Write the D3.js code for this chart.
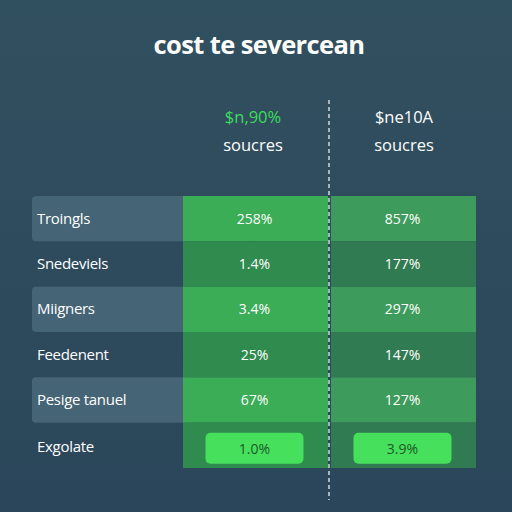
<!DOCTYPE html>
<html><head><meta charset="utf-8">
<script src="https://cdn.jsdelivr.net/npm/d3@7"></script>
<style>body{margin:0;background:#2e4b60}</style>
</head><body>
<script>
// table contents
var rowLabels = ["Troingls", "Snedeviels", "Miigners", "Feedenent", "Pesige tanuel", "Exgolate"];
var colHeads = ["$n,90%", "$ne10A"];
var colSubs = ["soucres", "soucres"];
var colA = ["258%", "1.4%", "3.4%", "25%", "67%", "1.0%"];
var colB = ["857%", "177%", "297%", "147%", "127%", "3.9%"];

var W = 512, H = 512;
var svg = d3.select("body").append("svg").attr("width", W).attr("height", H);
var defs = svg.append("defs");
var grad = defs.append("linearGradient").attr("id", "bg").attr("x1", 0).attr("y1", 0).attr("x2", 0).attr("y2", 1);
grad.append("stop").attr("offset", "0%").attr("stop-color", "#31505f");
grad.append("stop").attr("offset", "100%").attr("stop-color", "#2b465a");
svg.append("rect").attr("width", W).attr("height", H).attr("fill", "url(#bg)");

var font = "'Open Sans', sans-serif";
svg.append("text").attr("x", 259).attr("y", 54).attr("text-anchor", "middle")
  .attr("fill", "#fff").attr("font-family", font).attr("font-weight", 700)
  .attr("font-size", 25.5).attr("letter-spacing", -0.6).text("cost te severcean");

var y = d3.scaleBand().domain(d3.range(rowLabels.length)).range([196, 468]);
var cols = [{x0: 183, x1: 328, vals: colA}, {x0: 331, x1: 476, vals: colB}];
var lightFill = ["#3bad57", "#3d9c5b"], darkFill = ["#2f8b4e", "#307b51"];

rowLabels.forEach(function(lab, i) {
  var odd = i % 2 === 0;
  var g = svg.append("g").attr("transform", "translate(0," + y(i) + ")");
  if (odd) g.append("rect").attr("x", 32).attr("width", 160).attr("height", y.bandwidth())
    .attr("rx", 4).attr("fill", "#456476");
  cols.forEach(function(c, j) {
    g.append("rect").attr("x", c.x0).attr("width", c.x1 - c.x0).attr("height", y.bandwidth())
      .attr("fill", odd ? lightFill[j] : darkFill[j]);
    var cx = (c.x0 + c.x1) / 2 - 1;
    var last = i === rowLabels.length - 1;
    if (last) g.append("rect").attr("x", cx - 49).attr("y", 10).attr("width", 98).attr("height", 31)
      .attr("rx", 5).attr("fill", "#46e05c");
    g.append("text").attr("x", cx).attr("y", last ? 31 : y.bandwidth() / 2 + 5)
      .attr("text-anchor", "middle").attr("fill", last ? "#1c5a2c" : "#fff")
      .attr("font-family", font).attr("font-size", 14).text(c.vals[i]);
  });
  g.append("text").attr("x", 37).attr("y", i === rowLabels.length - 1 ? 29 : y.bandwidth() / 2 + 5)
    .attr("fill", "#fff").attr("font-family", font).attr("font-size", 15)
    .attr("letter-spacing", -0.3).text(lab);
});

// headers
[253, 404].forEach(function(x, j) {
  svg.append("text").attr("x", x).attr("y", 123).attr("text-anchor", "middle")
    .attr("fill", j === 0 ? "#3ddc5e" : "#fff").attr("font-family", font).attr("font-size", 16.5)
    .text(colHeads[j]);
  svg.append("text").attr("x", x).attr("y", 151).attr("text-anchor", "middle")
    .attr("fill", "#fff").attr("font-family", font).attr("font-size", 16.5).text(colSubs[j]);
});

svg.append("line").attr("x1", 329).attr("x2", 329).attr("y1", 100).attr("y2", 500)
  .attr("stroke", "#e8eef2").attr("stroke-width", 1.3).attr("stroke-dasharray", "4,3");
</script>
</body></html>
